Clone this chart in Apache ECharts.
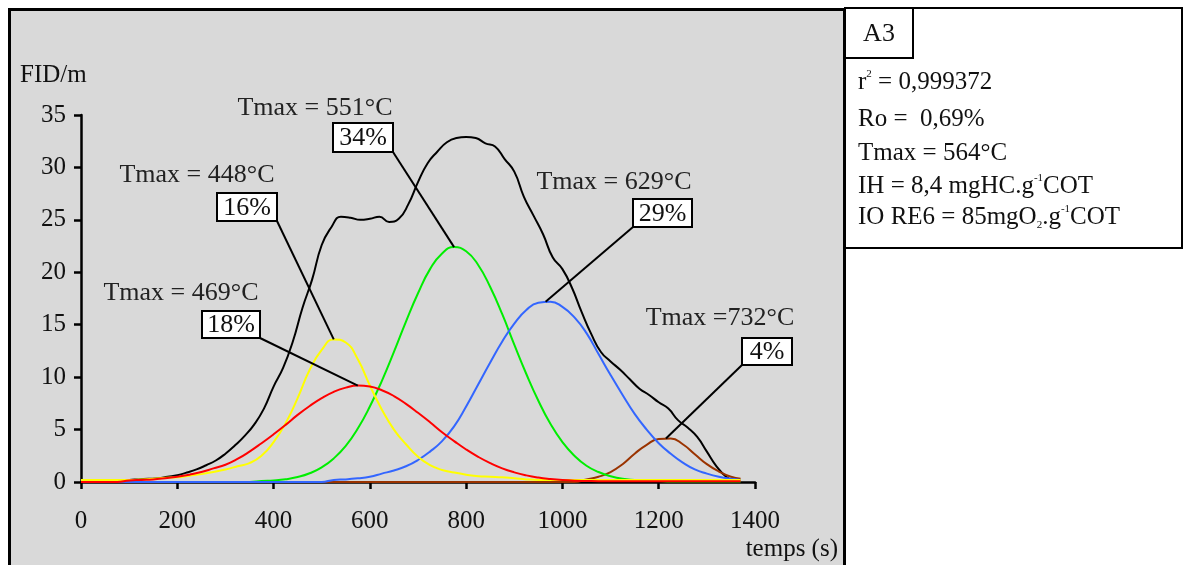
<!DOCTYPE html>
<html><head><meta charset="utf-8">
<script src="https://cdn.jsdelivr.net/npm/echarts@6/dist/echarts.min.js"></script>
<style>html,body{margin:0;padding:0;background:#fff}#c{width:1185px;height:565px}</style>
</head><body><div id="c"></div>
<script>
// ---- data ----
const xTicks = [0, 200, 400, 600, 800, 1000, 1200, 1400];
const yTicks = [0, 5, 10, 15, 20, 25, 30, 35];

// time samples for the component curves (s)
const tComp = [0,25,50,75,100,125,150,175,200,225,
  250,275,300,325,350,375,400,425,450,475,
  500,525,550,575,600,625,650,675,700,725,
  750,775,800,825,850,875,900,925,950,975,
  1000,1025,1050,1075,1100,1125,1150,1175,1200,1225,
  1250,1275,1300,1325,1350,1370];

// Tmax = 448°C (16%)
const yellowVals = [0.2,0.2,0.2,0.2,0.2,0.25,0.3,0.4,0.45,0.6,
  0.75,0.95,1.2,1.5,1.8,2.5,3.8,5.6,8.0,10.7,
  12.6,13.6,13.3,11.7,9.2,6.9,5.0,3.6,2.4,1.6,
  1.15,0.9,0.7,0.55,0.5,0.45,0.35,0.25,0.2,0.2,
  0.2,0.2,0.2,0.2,0.2,0.2,0.2,0.2,0.2,0.2,
  0.2,0.2,0.2,0.2,0.2,0.2];
// Tmax = 469°C (18%)
const redVals = [0,0,0,0,0.15,0.2,0.25,0.35,0.5,0.7,
  0.95,1.3,1.65,2.2,2.9,3.7,4.55,5.45,6.4,7.25,
  8.0,8.6,9.0,9.2,9.1,8.75,8.2,7.45,6.6,5.7,
  4.75,3.9,3.1,2.4,1.8,1.3,0.92,0.63,0.42,0.28,
  0.18,0.12,0.1,0.08,0.08,0.08,0.08,0.08,0.08,0.08,
  0.08,0.08,0.08,0.08,0.08,0.08];
// Tmax = 551°C (34%)
const greenVals = [0,0,0,0,0,0,0,0,0,0,
  0,0,0,0,0,0.1,0.15,0.26,0.47,0.83,
  1.4,2.25,3.45,5.1,7.2,9.65,12.4,15.3,18.0,20.3,
  21.8,22.4,22.0,20.7,18.6,16.0,13.1,10.3,7.75,5.55,
  3.8,2.5,1.55,0.95,0.55,0.3,0.2,0.15,0.1,0.05,
  0.05,0.05,0.05,0.05,0.05,0.05];
// Tmax = 629°C (29%)
const blueVals = [0,0,0,0,0,0,0,0,0,0,
  0,0,0,0,0,0,0,0,0,0,
  0,0.2,0.25,0.35,0.5,0.8,1.1,1.5,2.1,2.9,
  3.9,5.3,7.2,9.3,11.4,13.4,15.1,16.4,17.1,17.2,
  16.7,15.7,14.2,12.2,10.2,8.3,6.5,5.0,3.7,2.7,
  1.85,1.2,0.8,0.5,0.3,0.2];
// Tmax = 732°C (4%)
const brownVals = [0,0,0,0,0,0,0,0,0,0,
  0,0,0,0,0,0,0,0,0,0,
  0,0,0,0,0,0,0,0,0,0,
  0,0,0,0,0,0,0,0,0,0,
  0,0,0.25,0.5,0.95,1.7,2.7,3.55,4.1,4.15,
  3.6,2.65,1.7,1.0,0.5,0.3];

// measured total signal
const tTotal = [0,20,40,60,80,100,120,140,160,180,
  200,220,240,260,280,300,320,340,360,380,
  400,420,440,460,480,500,520,540,560,580,
  600,620,640,660,680,700,720,740,760,780,
  800,820,840,860,880,900,920,940,960,980,
  1000,1020,1040,1060,1080,1100,1120,1140,1160,1180,
  1200,1220,1240,1260,1280,1300,1320,1340,1360];
const totalVals = [0.1,0.1,0.1,0.1,0.1,0.2,0.25,0.3,0.35,0.5,
  0.65,0.9,1.2,1.6,2.05,2.7,3.5,4.4,5.5,7.0,
  9.1,10.9,13.4,16.6,19.3,22.6,24.3,25.3,25.2,25.0,
  25.1,25.3,24.8,25.1,26.5,28.6,30.4,31.5,32.4,32.8,
  32.9,32.8,32.3,32.0,30.8,29.6,27.2,25.4,23.6,21.4,
  20.3,18.5,16.2,14.1,12.4,11.5,10.7,9.8,8.9,8.3,
  7.6,7.0,5.9,5.2,4.3,2.9,1.5,0.5,0.0];

// annotations
const annTmax = ['Tmax = 551°C', 'Tmax = 448°C', 'Tmax = 469°C', 'Tmax = 629°C', 'Tmax =732°C'];
const annPct = ['34%', '16%', '18%', '29%', '4%'];
const annPeak = [[775, 22.4], [525, 13.6], [575, 9.2], [965, 17.2], [1215, 4.15]];

const infoLines = ['r{sup|2} = 0,999372', 'Ro =  0,69%', 'Tmax = 564°C',
  'IH = 8,4 mgHC.g{sup|-1}COT', 'IO RE6 = 85mgO{sub|2}.g{sup|-1}COT'];
const sampleId = 'A3';

// ---- layout / style ----
const FONT = "'Liberation Serif','Times New Roman',serif";
const GRID = {left: 81, top: 115, width: 674, height: 367};
const boxes = [ // label box rects and which corner the leader starts from
  {x: 333, y: 123, w: 60, h: 29, cx: 'r'},
  {x: 217, y: 193, w: 60, h: 28, cx: 'r'},
  {x: 202, y: 311, w: 58, h: 27, cx: 'r'},
  {x: 633, y: 199, w: 59, h: 28, cx: 'l'},
  {x: 742, y: 338, w: 50, h: 27, cx: 'l'}];
const tmaxPos = [[315, 108], [197, 175], [181, 293], [614, 182], [720, 318]];
const infoY = [82, 119, 153, 186, 217];

const chart = echarts.init(document.getElementById('c'), null, {renderer: 'canvas'});
const zip = (t, v) => t.map((x, i) => [x, v[i]]);
function line(name, t, v, color, w) {
  return {type: 'line', name, data: zip(t, v), showSymbol: false, symbol: 'none',
    smooth: 0.5, lineStyle: {color, width: w}, itemStyle: {color},
    animation: false, silent: true};
}
chart.setOption({
  animation: false,
  backgroundColor: '#ffffff',
  grid: {left: GRID.left, top: GRID.top, width: GRID.width, height: GRID.height, containLabel: false},
  xAxis: {type: 'value', min: 0, max: 1400, interval: 200,
    axisLine: {lineStyle: {color: '#000', width: 2.5}},
    axisTick: {length: 7, lineStyle: {color: '#000', width: 2.5}},
    axisLabel: {margin: 27, color: '#111', fontSize: 25, fontFamily: FONT,
      formatter: v => xTicks.includes(v) ? String(v) : ''},
    splitLine: {show: false}},
  yAxis: {type: 'value', min: 0, max: 35, interval: 5,
    axisLine: {show: true, lineStyle: {color: '#000', width: 2.5}},
    axisTick: {show: true, length: 7, lineStyle: {color: '#000', width: 2.5}},
    axisLabel: {margin: 15, color: '#111', fontSize: 25, fontFamily: FONT,
      formatter: v => yTicks.includes(v) ? String(v) : ''},
    splitLine: {show: false}},
  series: [
    line('total', tTotal, totalVals, '#000000', 2),
    line('732', tComp, brownVals, '#9a3300', 2),
    line('551', tComp, greenVals, '#00ee00', 2),
    line('629', tComp, blueVals, '#3366ff', 2),
    line('448', tComp, yellowVals, '#ffff00', 2),
    line('469', tComp, redVals, '#ff0000', 2)
  ]
});

const els = [];
// chart panel
els.push({type: 'rect', z: -100, shape: {x: 9.5, y: 9.5, width: 835, height: 600},
  style: {fill: '#d9d9d9', stroke: '#000', lineWidth: 3}});
// axis names
els.push({type: 'text', z: 50, x: 20, y: 75, style: {text: 'FID/m', fill: '#111',
  font: '25px ' + FONT, textAlign: 'left', textVerticalAlign: 'middle', align: 'left', verticalAlign: 'middle'}});
els.push({type: 'text', z: 50, x: 838, y: 549, style: {text: 'temps (s)', fill: '#111',
  font: '25px ' + FONT, textAlign: 'right', textVerticalAlign: 'middle', align: 'right', verticalAlign: 'middle'}});
// annotations
annTmax.forEach((txt, i) => {
  const b = boxes[i];
  const p = chart.convertToPixel({gridIndex: 0}, annPeak[i]);
  const sx = b.cx === 'r' ? b.x + b.w : b.x;
  const sy = b.y + b.h;
  els.push({type: 'line', z: 60, shape: {x1: sx, y1: sy, x2: p[0], y2: p[1]},
    style: {stroke: '#000', lineWidth: 2}});
  els.push({type: 'rect', z: 61, shape: {x: b.x, y: b.y, width: b.w, height: b.h},
    style: {fill: '#fff', stroke: '#000', lineWidth: 2}});
  els.push({type: 'text', z: 62, x: b.x + b.w / 2, y: b.y + b.h / 2 + 1, style: {text: annPct[i], fill: '#111',
    font: '26px ' + FONT, textAlign: 'center', textVerticalAlign: 'middle', align: 'center', verticalAlign: 'middle'}});
  els.push({type: 'text', z: 62, x: tmaxPos[i][0], y: tmaxPos[i][1], style: {text: txt, fill: '#222',
    font: '26px ' + FONT, textAlign: 'center', textVerticalAlign: 'middle', align: 'center', verticalAlign: 'middle'}});
});
// info box
els.push({type: 'rect', z: 70, shape: {x: 845, y: 8, width: 337, height: 240},
  style: {fill: '#fff', stroke: '#000', lineWidth: 2}});
els.push({type: 'rect', z: 71, shape: {x: 845, y: 8, width: 68, height: 50},
  style: {fill: '#fff', stroke: '#000', lineWidth: 2}});
els.push({type: 'text', z: 72, x: 879, y: 34, style: {text: sampleId, fill: '#111',
  font: '26px ' + FONT, textAlign: 'center', textVerticalAlign: 'middle', align: 'center', verticalAlign: 'middle'}});
infoLines.forEach((txt, i) => {
  els.push({type: 'text', z: 72, x: 858, y: infoY[i], style: {text: txt, fill: '#111',
    fontSize: 25, fontFamily: FONT, lineHeight: 27,
    textAlign: 'left', textVerticalAlign: 'middle', align: 'left', verticalAlign: 'middle',
    rich: {
      sup: {fontSize: 11, fontFamily: FONT, fill: '#111', verticalAlign: 'top', lineHeight: 12},
      sub: {fontSize: 11, fontFamily: FONT, fill: '#111', verticalAlign: 'bottom', lineHeight: 12}
    }}});
});
chart.setOption({graphic: {elements: els}});
</script>
</body></html>
